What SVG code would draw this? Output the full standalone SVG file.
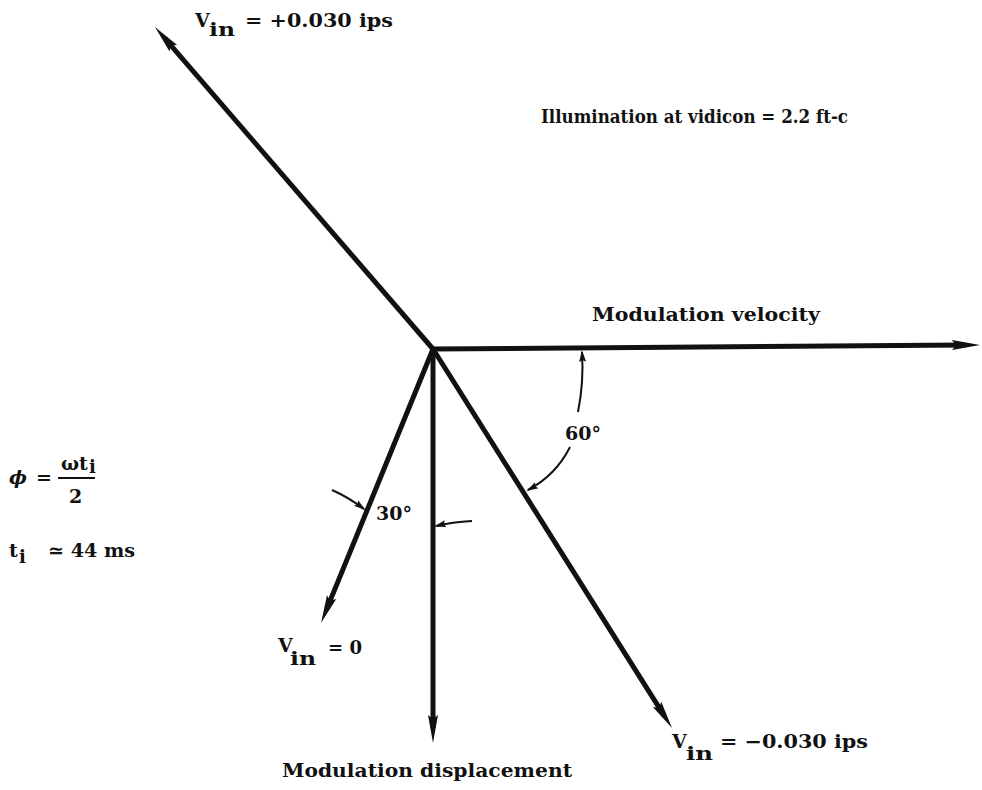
<svg xmlns="http://www.w3.org/2000/svg" width="982" height="790" viewBox="0 0 982 790">
<style>
.t{font-family:"DejaVu Serif","Liberation Serif",serif;font-weight:bold;font-size:19px;fill:#111}
.s{font-size:18px}
.ln{stroke:#111;stroke-width:5;fill:none;stroke-linecap:butt}
.arc{stroke:#111;stroke-width:2;fill:none}
</style>
<defs>
<marker id="ah" viewBox="0 0 28 12" refX="13" refY="6" markerWidth="28" markerHeight="12" markerUnits="userSpaceOnUse" orient="auto">
<polygon points="0,1 28,6 0,11 4,6" fill="#111"/>
</marker>
<marker id="sa" viewBox="0 0 12 8" refX="10" refY="4" markerWidth="12" markerHeight="8" markerUnits="userSpaceOnUse" orient="auto">
<polygon points="0,0.5 12,4 0,7.5 2,4" fill="#111"/>
</marker>
</defs>
<rect width="982" height="790" fill="#fff"/>
<g id="connectors">
<line class="ln" x1="433" y1="349" x2="164.8" y2="38.4" marker-end="url(#ah)"/>
<line class="ln" x1="431" y1="349" x2="965" y2="345" marker-end="url(#ah)"/>
<line class="ln" x1="433" y1="349" x2="326.7" y2="609.1" marker-end="url(#ah)"/>
<line class="ln" x1="433" y1="349" x2="433" y2="728" marker-end="url(#ah)"/>
<line class="ln" x1="433" y1="349" x2="664" y2="715.3" marker-end="url(#ah)"/>
<path class="arc" d="M578 412 Q584 382 582 352" marker-end="url(#sa)"/>
<path class="arc" d="M570 447 Q556 475 528 490" marker-end="url(#sa)"/>
<path class="arc" d="M332 490 Q348 497 364 509" marker-end="url(#sa)"/>
<path class="arc" d="M472 521 Q452 522 436 526" marker-end="url(#sa)"/>
</g>
<g id="label-vin-plus">
<text class="t" x="195" y="27">V</text>
<text class="t s" x="209" y="36" textLength="26" lengthAdjust="spacingAndGlyphs">in</text>
<text class="t" x="245" y="27" textLength="148" lengthAdjust="spacingAndGlyphs">= +0.030 ips</text>
</g>
<g id="label-illum">
<text class="t" x="541" y="123" textLength="307" lengthAdjust="spacingAndGlyphs">Illumination at vidicon = 2.2 ft-c</text>
</g>
<g id="label-mod-velocity">
<text class="t" x="592" y="321" textLength="228" lengthAdjust="spacingAndGlyphs">Modulation velocity</text>
</g>
<g id="label-phi">
<text class="t" x="9" y="484" font-style="italic">ϕ</text>
<text class="t" x="36" y="484">=</text>
<line x1="58" y1="478" x2="95" y2="478" stroke="#111" stroke-width="2"/>
<text class="t" x="61" y="470">ωt</text>
<text class="t s" x="89" y="473">i</text>
<text class="t" x="69" y="503">2</text>
</g>
<g id="label-ti">
<text class="t" x="9" y="557">t</text>
<text class="t s" x="19" y="563">i</text>
<text class="t" x="48" y="557" textLength="87" lengthAdjust="spacingAndGlyphs">≃ 44 ms</text>
</g>
<g id="label-60">
<text class="t" x="565" y="440">60°</text>
</g>
<g id="label-30">
<text class="t" x="376" y="520">30°</text>
</g>
<g id="label-vin-zero">
<text class="t" x="278" y="652">V</text>
<text class="t s" x="290" y="665" textLength="26" lengthAdjust="spacingAndGlyphs">in</text>
<text class="t" x="328" y="654" textLength="34" lengthAdjust="spacingAndGlyphs">= 0</text>
</g>
<g id="label-mod-disp">
<text class="t" x="282" y="777" textLength="290" lengthAdjust="spacingAndGlyphs">Modulation displacement</text>
</g>
<g id="label-vin-minus">
<text class="t" x="672" y="748">V</text>
<text class="t s" x="686" y="760" textLength="27" lengthAdjust="spacingAndGlyphs">in</text>
<text class="t" x="720" y="748" textLength="148" lengthAdjust="spacingAndGlyphs">= −0.030 ips</text>
</g>
</svg>
